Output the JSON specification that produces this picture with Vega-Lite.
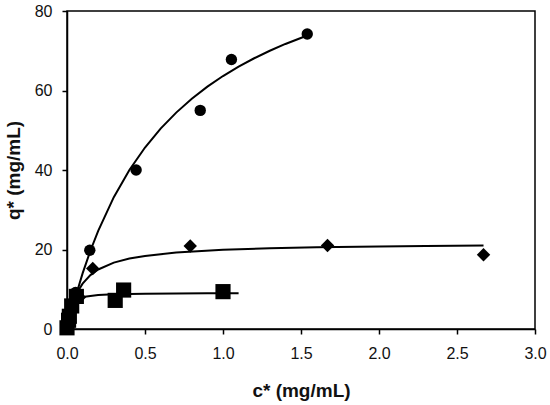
{
  "$schema": "https://vega.github.io/schema/vega-lite/v6.json",
  "width": 468,
  "height": 318,
  "autosize": {"type": "none"},
  "padding": {"left": 67, "top": 11, "right": 15, "bottom": 76},
  "background": "white",
  "config": {
    "view": {"stroke": "black", "strokeWidth": 1.5},
    "axis": {
      "grid": false,
      "domainColor": "black",
      "domainWidth": 1.5,
      "tickColor": "black",
      "tickWidth": 1.5,
      "tickSize": 5,
      "labelFont": "Liberation Sans",
      "labelFontSize": 16,
      "labelColor": "#111",
      "titleFont": "Liberation Sans",
      "titleFontSize": 19,
      "titleFontWeight": "bold",
      "titleColor": "#111"
    }
  },
  "datasets": {
    "points": [
      {"series": "A", "c": 0.0, "q": 0.0},
      {"series": "A", "c": 0.005, "q": 1.5},
      {"series": "A", "c": 0.01, "q": 3.5},
      {"series": "A", "c": 0.055, "q": 9.2},
      {"series": "A", "c": 0.146, "q": 19.8},
      {"series": "A", "c": 0.443, "q": 40.0},
      {"series": "A", "c": 0.854, "q": 55.0},
      {"series": "A", "c": 1.054, "q": 67.8},
      {"series": "A", "c": 1.54, "q": 74.2},
      {"series": "B", "c": 0.0, "q": 0.5},
      {"series": "B", "c": 0.005, "q": 2.5},
      {"series": "B", "c": 0.02, "q": 4.5},
      {"series": "B", "c": 0.08, "q": 8.0},
      {"series": "B", "c": 0.165, "q": 15.2},
      {"series": "B", "c": 0.79, "q": 20.9},
      {"series": "B", "c": 1.67, "q": 21.0},
      {"series": "B", "c": 2.67, "q": 18.7},
      {"series": "C", "c": 0.0, "q": 0.3},
      {"series": "C", "c": 0.01, "q": 2.2},
      {"series": "C", "c": 0.015, "q": 3.2},
      {"series": "C", "c": 0.03, "q": 5.8},
      {"series": "C", "c": 0.06, "q": 8.2},
      {"series": "C", "c": 0.309, "q": 7.2},
      {"series": "C", "c": 0.363, "q": 9.8},
      {"series": "C", "c": 1.0, "q": 9.4}
    ],
    "curves": [
      {"series": "A", "c": 0.0, "q": 0.0},
      {"series": "A", "c": 0.02, "q": 3.13},
      {"series": "A", "c": 0.05, "q": 7.5},
      {"series": "A", "c": 0.1, "q": 14.0},
      {"series": "A", "c": 0.15, "q": 19.69},
      {"series": "A", "c": 0.2, "q": 24.71},
      {"series": "A", "c": 0.3, "q": 33.16},
      {"series": "A", "c": 0.4, "q": 40.0},
      {"series": "A", "c": 0.5, "q": 45.65},
      {"series": "A", "c": 0.6, "q": 50.4},
      {"series": "A", "c": 0.7, "q": 54.44},
      {"series": "A", "c": 0.8, "q": 57.93},
      {"series": "A", "c": 0.9, "q": 60.97},
      {"series": "A", "c": 1.0, "q": 63.64},
      {"series": "A", "c": 1.1, "q": 66.0},
      {"series": "A", "c": 1.2, "q": 68.11},
      {"series": "A", "c": 1.3, "q": 70.0},
      {"series": "A", "c": 1.4, "q": 71.71},
      {"series": "A", "c": 1.54, "q": 73.84},
      {"series": "B", "c": 0.0, "q": 0.0},
      {"series": "B", "c": 0.01, "q": 2.17},
      {"series": "B", "c": 0.02, "q": 3.95},
      {"series": "B", "c": 0.04, "q": 6.68},
      {"series": "B", "c": 0.07, "q": 9.49},
      {"series": "B", "c": 0.1, "q": 11.42},
      {"series": "B", "c": 0.15, "q": 13.56},
      {"series": "B", "c": 0.2, "q": 14.97},
      {"series": "B", "c": 0.3, "q": 16.69},
      {"series": "B", "c": 0.4, "q": 17.71},
      {"series": "B", "c": 0.5, "q": 18.39},
      {"series": "B", "c": 0.7, "q": 19.23},
      {"series": "B", "c": 1.0, "q": 19.91},
      {"series": "B", "c": 1.3, "q": 20.29},
      {"series": "B", "c": 1.6, "q": 20.54},
      {"series": "B", "c": 2.0, "q": 20.77},
      {"series": "B", "c": 2.3, "q": 20.88},
      {"series": "B", "c": 2.67, "q": 20.99},
      {"series": "C", "c": 0.0, "q": 0.0},
      {"series": "C", "c": 0.005, "q": 2.53},
      {"series": "C", "c": 0.01, "q": 3.96},
      {"series": "C", "c": 0.02, "q": 5.52},
      {"series": "C", "c": 0.04, "q": 6.87},
      {"series": "C", "c": 0.07, "q": 7.67},
      {"series": "C", "c": 0.1, "q": 8.05},
      {"series": "C", "c": 0.2, "q": 8.54},
      {"series": "C", "c": 0.3, "q": 8.72},
      {"series": "C", "c": 0.5, "q": 8.87},
      {"series": "C", "c": 0.7, "q": 8.93},
      {"series": "C", "c": 0.9, "q": 8.97},
      {"series": "C", "c": 1.1, "q": 8.99}
    ]
  },
  "encoding": {
    "x": {
      "field": "c",
      "type": "quantitative",
      "scale": {"domain": [0, 3], "nice": false, "zero": false},
      "axis": {
        "title": "c* (mg/mL)",
        "values": [0, 0.5, 1, 1.5, 2, 2.5, 3],
        "format": ".1f",
        "labelPadding": 11,
        "titlePadding": 20,
        "labelFlush": false
      }
    },
    "y": {
      "field": "q",
      "type": "quantitative",
      "scale": {"domain": [0, 80], "nice": false},
      "axis": {
        "title": "q* (mg/mL)",
        "values": [0, 20, 40, 60, 80],
        "labelPadding": 10,
        "titlePadding": 11,
        "labelFlush": false
      }
    }
  },
  "layer": [
    {
      "data": {"name": "curves"},
      "mark": {"type": "line", "color": "black", "strokeWidth": 2, "clip": true},
      "encoding": {"detail": {"field": "series"}}
    },
    {
      "data": {"name": "points"},
      "mark": {"type": "point", "filled": true, "opacity": 1, "color": "black"},
      "encoding": {
        "shape": {
          "field": "series",
          "type": "nominal",
          "scale": {"domain": ["A", "B", "C"], "range": ["circle", "diamond", "square"]},
          "legend": null
        },
        "size": {
          "field": "series",
          "type": "nominal",
          "scale": {"domain": ["A", "B", "C"], "range": [130, 230, 85]},
          "legend": null
        }
      }
    }
  ]
}
